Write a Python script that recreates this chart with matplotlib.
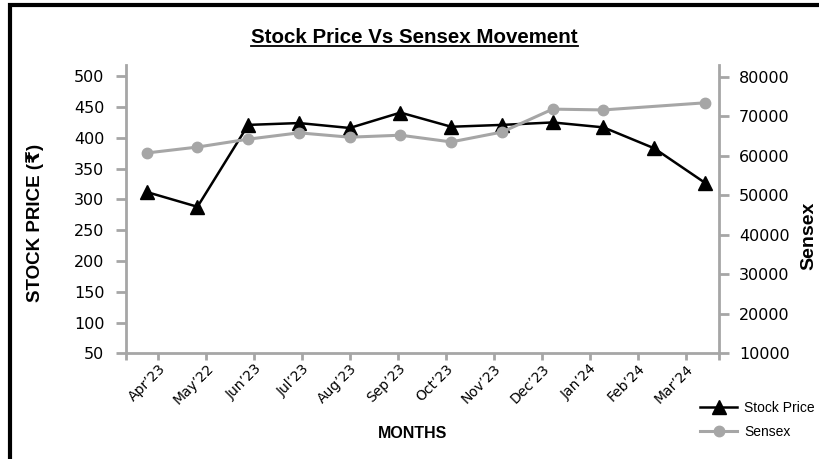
import numpy as np
import matplotlib.pyplot as plt
from matplotlib.lines import Line2D
import matplotlib.transforms as mtransforms

months = ["Apr’23", "May’22", "Jun’23", "Jul’23", "Aug’23", "Sep’23",
          "Oct’23", "Nov’23", "Dec’23", "Jan’24", "Feb’24", "Mar’24"]
stock_price = [312, 288, 421, 424, 416, 441, 418, 421, 425, 417, 383, 327]
# no Sensex point for Feb'24 in the original, line goes straight Jan -> Mar
sensex = [60700, 62200, 64200, 65800, 64700, 65200, 63500, 66000, 71800, 71600, np.nan, 73400]
left_ticks = [50, 100, 150, 200, 250, 300, 350, 400, 450, 500]
right_ticks = [10000, 20000, 30000, 40000, 50000, 60000, 70000, 80000]

grey = '#a6a6a6'
W, H = 820, 459
fig = plt.figure(figsize=(W / 100, H / 100), dpi=100)

ax = fig.add_axes([126 / W, 1 - 353.3 / H, (719 - 126) / W, (353.3 - 65) / H])
ax2 = ax.twinx()

x = np.arange(len(months))
sx = np.array(sensex, dtype=float)
ok = ~np.isnan(sx)

l1, = ax.plot(x, stock_price, color='black', lw=1.8, marker='^', ms=10,
              label='Stock Price', zorder=3)
l2, = ax2.plot(x[ok], sx[ok], color=grey, lw=2.2, marker='o', ms=7.5,
               label='Sensex')

ax.set_xlim(-0.408, 11.277)
ax.set_ylim(50, 518.3)
ax2.set_ylim(10000, 82970)

tick_pos = 0.229 + 0.9448 * x
ax.set_xticks(tick_pos)
ax.set_xticklabels(months, rotation=45, ha='right', va='top',
                   rotation_mode='anchor', fontsize=10, family='DejaVu Sans')
shift = mtransforms.ScaledTranslation(5 / 100, 0, fig.dpi_scale_trans)
for lab in ax.get_xticklabels():
    lab.set_transform(lab.get_transform() + shift)
ax.set_xticks([-0.408, 11.277], minor=True)

ax.set_yticks(left_ticks)
ax2.set_yticks(right_ticks)
ax.tick_params(axis='y', direction='out', length=7.5, width=2, color=grey,
               pad=8, labelsize=11.5)
ax2.tick_params(axis='y', direction='out', length=7.5, width=2, color=grey,
                pad=7, labelsize=11.5)
ax.tick_params(axis='x', which='both', direction='out', length=5, width=2,
               color=grey, pad=1)

for a in (ax, ax2):
    for s in a.spines.values():
        s.set_visible(False)
ax.spines['left'].set_visible(True)
ax.spines['bottom'].set_visible(True)
ax2.spines['right'].set_visible(True)
for s in (ax.spines['left'], ax.spines['bottom'], ax2.spines['right']):
    s.set_color(grey)
    s.set_linewidth(2)

fam = ['Liberation Sans', 'DejaVu Sans', 'Noto Sans']
title = fig.text(414.5 / W, 1 - 43.3 / H, 'Stock Price Vs Sensex Movement',
                 ha='center', va='baseline', fontsize=14.8, fontweight='bold',
                 family=fam)
fig.text(35 / W, 1 - 223 / H, 'STOCK PRICE (₹)', rotation=90, ha='center',
         va='center', fontsize=13.5, fontweight='bold', family=fam)
fig.text(808.5 / W, 1 - 236 / H, 'Sensex', rotation=90, ha='center',
         va='center', fontsize=14, fontweight='bold', family=fam)
fig.text(412.5 / W, 1 - 433 / H, 'MONTHS', ha='center', va='center',
         fontsize=11.5, fontweight='bold', family=fam)

fig.legend(handles=[l1, l2], loc='center left',
           bbox_to_anchor=(693 / W, 1 - 420 / H), frameon=False,
           borderpad=0, handlelength=2.7, handletextpad=0.5,
           labelspacing=0.7, prop={'family': fam, 'size': 10})

# underline the title
fig.canvas.draw()
bb = title.get_window_extent()
uy = 1 - 45.5 / H
fig.add_artist(Line2D([bb.x0 / W, bb.x1 / W], [uy, uy], color='black', lw=1.3))

# border (only left and top edges show in the original crop)
bx, by = 10.5 / W, 1 - 5 / H
fig.add_artist(Line2D([bx, bx, 1.0], [0.0, by, by], color='black', lw=3,
                      solid_joinstyle='miter'))

fig.savefig('out.png', dpi=100)
